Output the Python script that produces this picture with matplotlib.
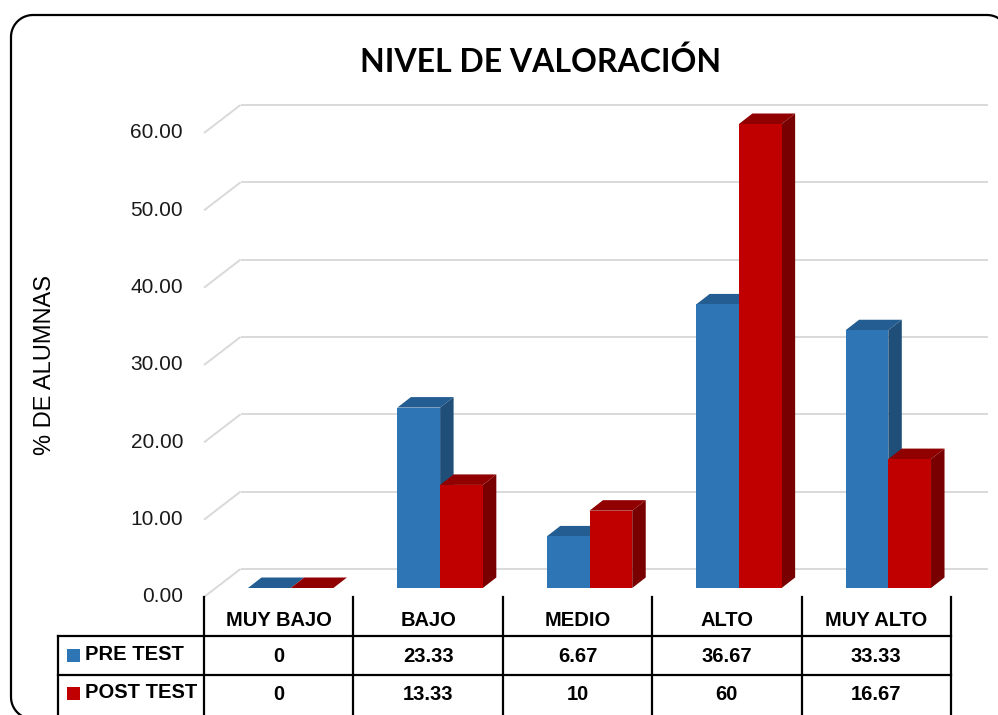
import numpy as np
import matplotlib
matplotlib.use("Agg")
import matplotlib.pyplot as plt
from matplotlib import transforms
from matplotlib.path import Path
from matplotlib.patches import Polygon, Rectangle, PathPatch

# ------------------------------------------------------------
# Datos
# ------------------------------------------------------------
categories = ["MUY BAJO", "BAJO", "MEDIO", "ALTO", "MUY ALTO"]
series_names = ["PRE TEST", "POST TEST"]
pre_test = [0, 23.33, 6.67, 36.67, 33.33]
post_test = [0, 13.33, 10, 60, 16.67]
pre_labels = ["0", "23.33", "6.67", "36.67", "33.33"]
post_labels = ["0", "13.33", "10", "60", "16.67"]
y_ticks = [0, 10, 20, 30, 40, 50, 60]

# colores: frente, tapa, lateral
BLUE = ("#2E75B6", "#245D91", "#1F4E79")
RED = ("#C00000", "#900000", "#780000")
GRID = "#D9D9D9"

NARROW = ["Liberation Sans", "DejaVu Sans"]
TABLE_FS = 14.5

W, H = 998, 715
fig = plt.figure(figsize=(W / 100, H / 100), dpi=100)
fig.patch.set_facecolor("white")

# plano de las barras (en pixeles de la imagen)
X0, X1 = 216, 963
Y0, YTOP = 588, 124
ax = fig.add_axes([X0 / W, (H - Y0) / H, (X1 - X0) / W, (Y0 - YTOP) / H])
ax.set_xlim(-0.5, 4.5)
ax.set_ylim(0, 60)
ax.axis("off")

sx = 5 / (X1 - X0)        # unidades por pixel en x
sy = 60 / (Y0 - YTOP)     # unidades por pixel en y


def xd(px):
    return -0.5 + (px - X0) * sx


def yd(py):
    return (Y0 - py) * sy


# desplazamientos de profundidad (pixeles)
front_dx, front_dy = -12 * sx, -9 * sy
back_dx, back_dy = 24.5 * sx, 19 * sy
bar_dx, bar_dy = 13.5 * sx, 10.5 * sy

# ------------------------------------------------------------
# Rejilla (pared trasera + suelo lateral)
# ------------------------------------------------------------
for v in y_ticks:
    ax.plot([-0.5 + front_dx, -0.5 + back_dx], [v + front_dy, v + back_dy],
            color=GRID, lw=1.4, zorder=1, clip_on=False, solid_capstyle="butt")
    ax.plot([-0.5 + back_dx, 4.5 + back_dx], [v + back_dy, v + back_dy],
            color=GRID, lw=1.4, zorder=1, clip_on=False, solid_capstyle="butt")
    ax.text(-0.5 + front_dx - 21 * sx, v + front_dy, f"{v:.2f}",
            ha="right", va="center", fontsize=15, family=NARROW, color="#1a1a1a")

# ------------------------------------------------------------
# Barras 3D
# ------------------------------------------------------------
bw = 0.286
x = list(range(len(categories)))
for values, offs, cols in [(pre_test, -bw / 2, BLUE), (post_test, bw / 2, RED)]:
    lefts = [i + offs - bw / 2 for i in x]
    for l, h in zip(lefts, values):
        r = l + bw
        top = Polygon([(l, h), (r, h), (r + bar_dx, h + bar_dy), (l + bar_dx, h + bar_dy)],
                      closed=True, facecolor=cols[1], edgecolor="none", zorder=3, clip_on=False)
        side = Polygon([(r, 0), (r + bar_dx, bar_dy), (r + bar_dx, h + bar_dy), (r, h)],
                       closed=True, facecolor=cols[2], edgecolor="none", zorder=3, clip_on=False)
        ax.add_patch(top)
        ax.add_patch(side)
    ax.bar([i + offs for i in x], values, width=bw, color=cols[0], zorder=3, clip_on=False)

# ------------------------------------------------------------
# Tabla de datos
# ------------------------------------------------------------
t_top = yd(597)
r1 = yd(636)
r2 = yd(675)
t_bot = yd(716)
x_leg = xd(58)
kw = dict(color="black", lw=1.6, zorder=4, clip_on=False, solid_capstyle="projecting")
for i in range(len(categories) + 1):
    xc = -0.5 + i + front_dx
    ax.plot([xc, xc], [t_top, t_bot], **kw)
ax.plot([x_leg, x_leg], [r1, t_bot], **kw)
ax.plot([x_leg, 4.5 + front_dx], [r1, r1], **kw)
ax.plot([x_leg, 4.5 + front_dx], [r2, r2], **kw)

for i, cat in enumerate(categories):
    xc = i + front_dx
    ax.text(xc, yd(620), cat, ha="center", va="center", fontsize=TABLE_FS,
            fontweight="bold", family=NARROW)
    ax.text(xc, yd(656), pre_labels[i], ha="center", va="center", fontsize=TABLE_FS,
            fontweight="bold", family=NARROW)
    ax.text(xc, yd(694), post_labels[i], ha="center", va="center", fontsize=TABLE_FS,
            fontweight="bold", family=NARROW)

for name, cols, yc in [(series_names[0], BLUE, 655), (series_names[1], RED, 693)]:
    ax.add_patch(Rectangle((xd(67), yd(yc + 6.5)), 13 * sx, 13 * sy,
                           facecolor=cols[0], edgecolor="none", clip_on=False, zorder=4))
    ax.text(xd(85), yd(yc), name, ha="left", va="center", fontsize=TABLE_FS,
            fontweight="bold", family=NARROW)

# ------------------------------------------------------------
# Titulo, eje y, borde
# ------------------------------------------------------------
fig.text(541 / W, 1 - 62 / H, "NIVEL DE VALORACIÓN", ha="center", va="center",
         fontsize=23, fontweight="bold", family=["Lato", "DejaVu Sans"])
fig.text(45 / W, 1 - 365 / H, "% DE ALUMNAS", ha="center", va="center",
         rotation=90, fontsize=17, family=["Liberation Sans", "DejaVu Sans"])

# borde redondeado del grafico (abierto a la derecha/abajo, fuera del recorte)
bl, br, bt, bb, rad = 11, 1009, H - 15, -4, 22


def arc(cx, cy, a0, a1):
    t = np.radians(np.linspace(a0, a1, 20))
    return list(zip(cx + rad * np.cos(t), cy + rad * np.sin(t)))


pts = (arc(bl + rad, bb + rad, 270, 180) +
       arc(bl + rad, bt - rad, 180, 90) +
       arc(br - rad, bt - rad, 90, 0))
border = PathPatch(Path(pts), transform=transforms.IdentityTransform(),
                   facecolor="none", edgecolor="black", lw=1.6, zorder=10)
fig.add_artist(border)

fig.savefig("out.png", dpi=100, facecolor="white")
